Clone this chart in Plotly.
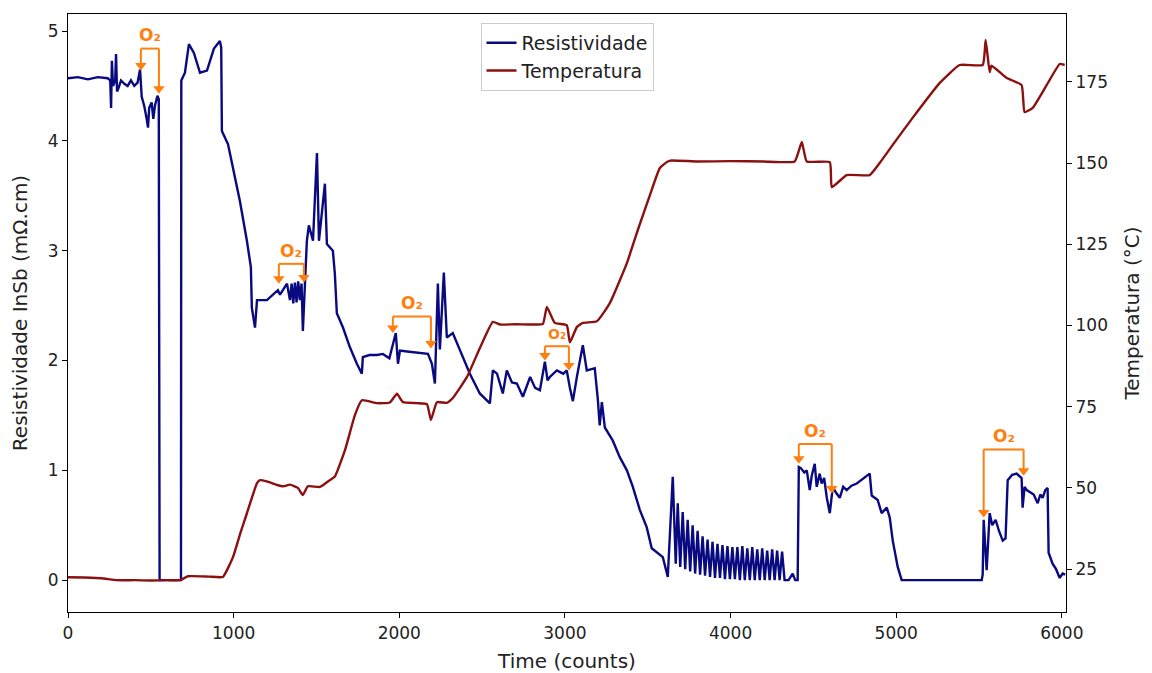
import plotly.graph_objects as go

# ---------------- data ----------------
res_x = [0, 60, 120, 180, 240, 255, 260, 265, 272, 285, 290, 296, 305, 320, 340, 360, 380, 400, 420, 435,
         445, 460, 475, 483, 490, 505, 515, 525, 540, 548, 553, 682, 684, 706, 730, 760, 797, 839, 881, 917,
         925, 929, 966, 996, 1038, 1080, 1104, 1110, 1129, 1141, 1201, 1267, 1280, 1322, 1340, 1350, 1360,
         1370, 1380, 1390, 1400, 1410, 1418, 1442, 1454, 1479, 1503, 1515, 1551, 1563, 1599, 1611, 1623,
         1660, 1702, 1744, 1774, 1780, 1820, 1865, 1901, 1940, 1979, 1992, 2004, 2060, 2106, 2173, 2197,
         2215, 2233, 2245, 2269, 2287, 2323, 2366, 2426, 2486, 2547, 2565, 2590, 2625, 2649, 2680, 2710,
         2746, 2790, 2820, 2849, 2879, 2895, 2909, 2951, 2990, 3011, 3030, 3048, 3072, 3108, 3132, 3180,
         3199, 3210, 3223, 3241, 3289, 3331, 3374, 3410, 3452, 3494, 3524, 3555, 3591, 3621, 3651, 3669,
         3681, 3696, 3711, 3726, 3741, 3756, 3771, 3786, 3801, 3816, 3831, 3846, 3861, 3876, 3891, 3906,
         3921, 3936, 3951, 3966, 3981, 3996, 4011, 4026, 4041, 4056, 4071, 4086, 4101, 4116, 4131, 4146,
         4161, 4176, 4191, 4206, 4221, 4236, 4251, 4266, 4281, 4296, 4311, 4326,
         4350, 4375, 4390, 4405, 4412, 4424, 4445, 4460, 4478, 4490, 4508, 4520, 4538, 4550, 4565, 4581,
         4599, 4617, 4635, 4659, 4680, 4701, 4730, 4762, 4800, 4840, 4852, 4888, 4912, 4943, 4961, 4979,
         5009, 5033, 5516, 5522, 5528, 5546, 5564, 5580, 5600, 5620, 5643, 5660, 5673, 5700, 5727, 5757,
         5763, 5775, 5788, 5810, 5830, 5854, 5870, 5884, 5900, 5914, 5920, 5944, 5965, 5987, 6005, 6020]
res_y = [4.57, 4.58, 4.56, 4.58, 4.57, 4.55, 4.30, 4.73, 4.50, 4.55, 4.79, 4.45, 4.48, 4.55, 4.52, 4.50, 4.55,
         4.50, 4.53, 4.65, 4.40, 4.32, 4.20, 4.12, 4.30, 4.35, 4.20, 4.32, 4.41, 4.38, 0.0, 0.0, 4.55, 4.62,
         4.88, 4.80, 4.62, 4.64, 4.84, 4.91, 4.85, 4.09, 3.97, 3.75, 3.45, 3.09, 2.85, 2.48, 2.30, 2.55, 2.55,
         2.64, 2.60, 2.70, 2.55, 2.70, 2.52, 2.71, 2.53, 2.72, 2.55, 2.70, 2.27, 3.09, 3.23, 3.09, 3.89, 3.09,
         3.61, 3.06, 3.00, 2.79, 2.43, 2.30, 2.12, 1.97, 1.88, 2.03, 2.05, 2.05, 2.06, 2.02, 2.25, 1.97, 2.09,
         2.08, 2.07, 2.06, 1.97, 1.79, 2.70, 2.10, 2.80, 2.21, 2.25, 2.09, 1.88, 1.70, 1.61, 1.91, 1.88, 1.70,
         1.91, 1.80, 1.79, 1.67, 1.85, 1.75, 1.73, 1.99, 1.82, 1.85, 1.91, 1.88, 1.91, 1.75, 1.63, 1.85, 2.14,
         1.91, 1.93, 1.64, 1.41, 1.62, 1.39, 1.27, 1.12, 1.00, 0.85, 0.64, 0.48, 0.29, 0.25, 0.21, 0.03, 0.94,
         0.15,
         0.70, 0.12, 0.62, 0.10, 0.55, 0.08, 0.50, 0.06, 0.45, 0.05, 0.40, 0.04, 0.37, 0.03, 0.35, 0.02,
         0.33, 0.02, 0.32, 0.01, 0.31, 0.01, 0.30, 0.01, 0.30, 0.00, 0.31, 0.00, 0.29, 0.00, 0.30, 0.00,
         0.28, 0.00, 0.29, 0.00, 0.27, 0.00, 0.28, 0.00, 0.27, 0.00, 0.26, 0.00,
         0.00, 0.06, 0.00, 0.00, 1.03, 1.02, 0.98, 1.00, 0.82, 0.95, 1.06, 0.85, 0.97, 0.88, 0.93, 0.75,
         0.61, 0.85, 0.80, 0.75, 0.85, 0.82, 0.86, 0.88, 0.92, 0.97, 0.77, 0.73, 0.61, 0.66, 0.57, 0.36,
         0.12, 0.00, 0.00, 0.05, 0.55, 0.09, 0.61, 0.50, 0.55, 0.45, 0.36, 0.38, 0.91, 0.96, 0.97, 0.93,
         0.66, 0.85, 0.82, 0.80, 0.78, 0.70, 0.78, 0.75, 0.82, 0.84, 0.25, 0.15, 0.10, 0.02, 0.06, 0.05]

temp_x = [0, 100, 200, 296, 400, 500, 600, 676, 724, 850, 935, 996, 1040, 1080, 1141, 1159, 1200, 1261,
          1300, 1340, 1388, 1418, 1448, 1521, 1581, 1611, 1672, 1732, 1774, 1865, 1943, 1986, 2022, 2106,
          2167, 2191, 2227, 2287, 2323, 2408, 2486, 2565, 2607, 2700, 2800, 2867, 2891, 2939, 3011, 3030,
          3072, 3108, 3193, 3271, 3374, 3440, 3512, 3573, 3621, 3645, 3800, 4000, 4200, 4387, 4430, 4460,
          4599, 4611, 4701, 4840, 4900, 4979, 5100, 5263, 5383, 5522, 5540, 5564, 5575, 5667, 5757, 5775,
          5824, 5908, 5987, 6017]
temp_y = [22.5, 22.4, 22.2, 21.6, 21.6, 21.5, 21.6, 21.6, 22.8, 22.7, 22.6, 28.7, 36.0, 42.2, 51.5, 52.4,
          52.0, 50.9, 50.5, 51.0, 50.0, 47.8, 50.5, 50.3, 52.4, 53.5, 61.6, 72.4, 77.0, 76.1, 76.3, 79.0,
          76.4, 76.1, 75.8, 70.9, 76.4, 76.2, 77.7, 84.1, 93.0, 101.1, 100.3, 100.4, 100.3, 100.5, 105.7,
          100.8, 100.1, 94.8, 99.5, 100.8, 101.3, 106.9, 119.2, 129.4, 140.0, 148.5, 150.5, 150.8, 150.5,
          150.6, 150.5, 150.5, 156.5, 150.5, 150.3, 142.6, 146.3, 146.3, 150.0, 155.6, 164.0, 174.7, 180.2,
          180.2, 187.9, 178.0, 180.0, 176.2, 174.0, 165.7, 167.0, 174.0, 180.5, 180.2]

# O2 markers: left / right x, bracket top, arrow tips (resistivity units), label height
o2_left = [440, 1273, 1961, 2879, 4412, 5528]
o2_right = [549, 1424, 2191, 3024, 4611, 5769]
o2_top = [4.84, 2.88, 2.40, 2.13, 1.24, 1.19]
o2_left_tip = [4.64, 2.70, 2.25, 2.00, 1.06, 0.57]
o2_right_tip = [4.43, 2.71, 2.11, 1.91, 0.79, 0.95]
o2_label_y = [4.96, 3.00, 2.52, 2.24, 1.36, 1.31]
o2_label_size = [17, 17, 17, 14, 17, 17]
o2_text = "O₂"

x_ticks = [0, 1000, 2000, 3000, 4000, 5000, 6000]
y_ticks = [0, 1, 2, 3, 4, 5]
t_ticks = [25, 50, 75, 100, 125, 150, 175]

# ---------------- figure ----------------
ORANGE = "#ff7f0e"
FONT = "DejaVu Sans"
HEAD = 0.045  # arrowhead half-height in resistivity units (style constant)

fig = go.Figure()
fig.add_trace(go.Scatter(x=res_x, y=res_y, mode="lines", name="Resistividade",
                         line=dict(color="#0a0a80", width=2.4), yaxis="y"))
fig.add_trace(go.Scatter(x=temp_x, y=temp_y, mode="lines", name="Temperatura",
                         line=dict(color="#8b1010", width=2.4, shape="spline", smoothing=0.4),
                         yaxis="y2"))

shapes = []
annotations = []
head_x = []
head_y = []
for i in range(len(o2_left)):
    shapes.append(dict(type="line", xref="x", yref="y", x0=o2_left[i], x1=o2_right[i],
                       y0=o2_top[i], y1=o2_top[i], line=dict(color=ORANGE, width=2)))
    for xx, tip in ((o2_left[i], o2_left_tip[i]), (o2_right[i], o2_right_tip[i])):
        shapes.append(dict(type="line", xref="x", yref="y", x0=xx, x1=xx,
                           y0=o2_top[i], y1=tip + HEAD, line=dict(color=ORANGE, width=2)))
        head_x.append(xx)
        head_y.append(tip + HEAD)
    annotations.append(dict(x=(o2_left[i] + o2_right[i]) / 2, y=o2_label_y[i], xref="x", yref="y",
                            text="<b>" + o2_text + "</b>", showarrow=False,
                            font=dict(color=ORANGE, size=o2_label_size[i], family=FONT)))

fig.add_trace(go.Scatter(x=head_x, y=head_y, mode="markers", yaxis="y", showlegend=False,
                         hoverinfo="skip",
                         marker=dict(symbol="triangle-down", size=10, color=ORANGE,
                                     line=dict(width=0))))

axis_common = dict(showline=True, linecolor="black", linewidth=1.2, ticks="outside", ticklen=5,
                   tickcolor="black", showgrid=False, zeroline=False, automargin=False,
                   tickfont=dict(family=FONT, size=17, color="#222"),
                   title_font=dict(family=FONT, size=20, color="#222"))

fig.update_layout(
    width=1152, height=673,
    margin=dict(l=68, r=86, t=14, b=61, autoexpand=False),
    paper_bgcolor="white", plot_bgcolor="white",
    font=dict(family=FONT, size=17, color="#222"),
    xaxis=dict(range=[0, 6025], tickvals=x_ticks, mirror=True,
               title=dict(text="Time (counts)", standoff=12), **axis_common),
    yaxis=dict(range=[-0.29, 5.155], tickvals=y_ticks,
               title=dict(text="Resistividade InSb (mΩ.cm)", standoff=14), **axis_common),
    yaxis2=dict(range=[11.8, 195.9], tickvals=t_ticks, overlaying="y", side="right",
                title=dict(text="Temperatura (°C)", standoff=18), **axis_common),
    legend=dict(x=0.5, xanchor="center", y=0.985, yanchor="top", bgcolor="white",
                bordercolor="#cccccc", borderwidth=1, font=dict(family=FONT, size=19, color="#222")),
    shapes=shapes, annotations=annotations, showlegend=True,
)

fig.write_html("out.html")
